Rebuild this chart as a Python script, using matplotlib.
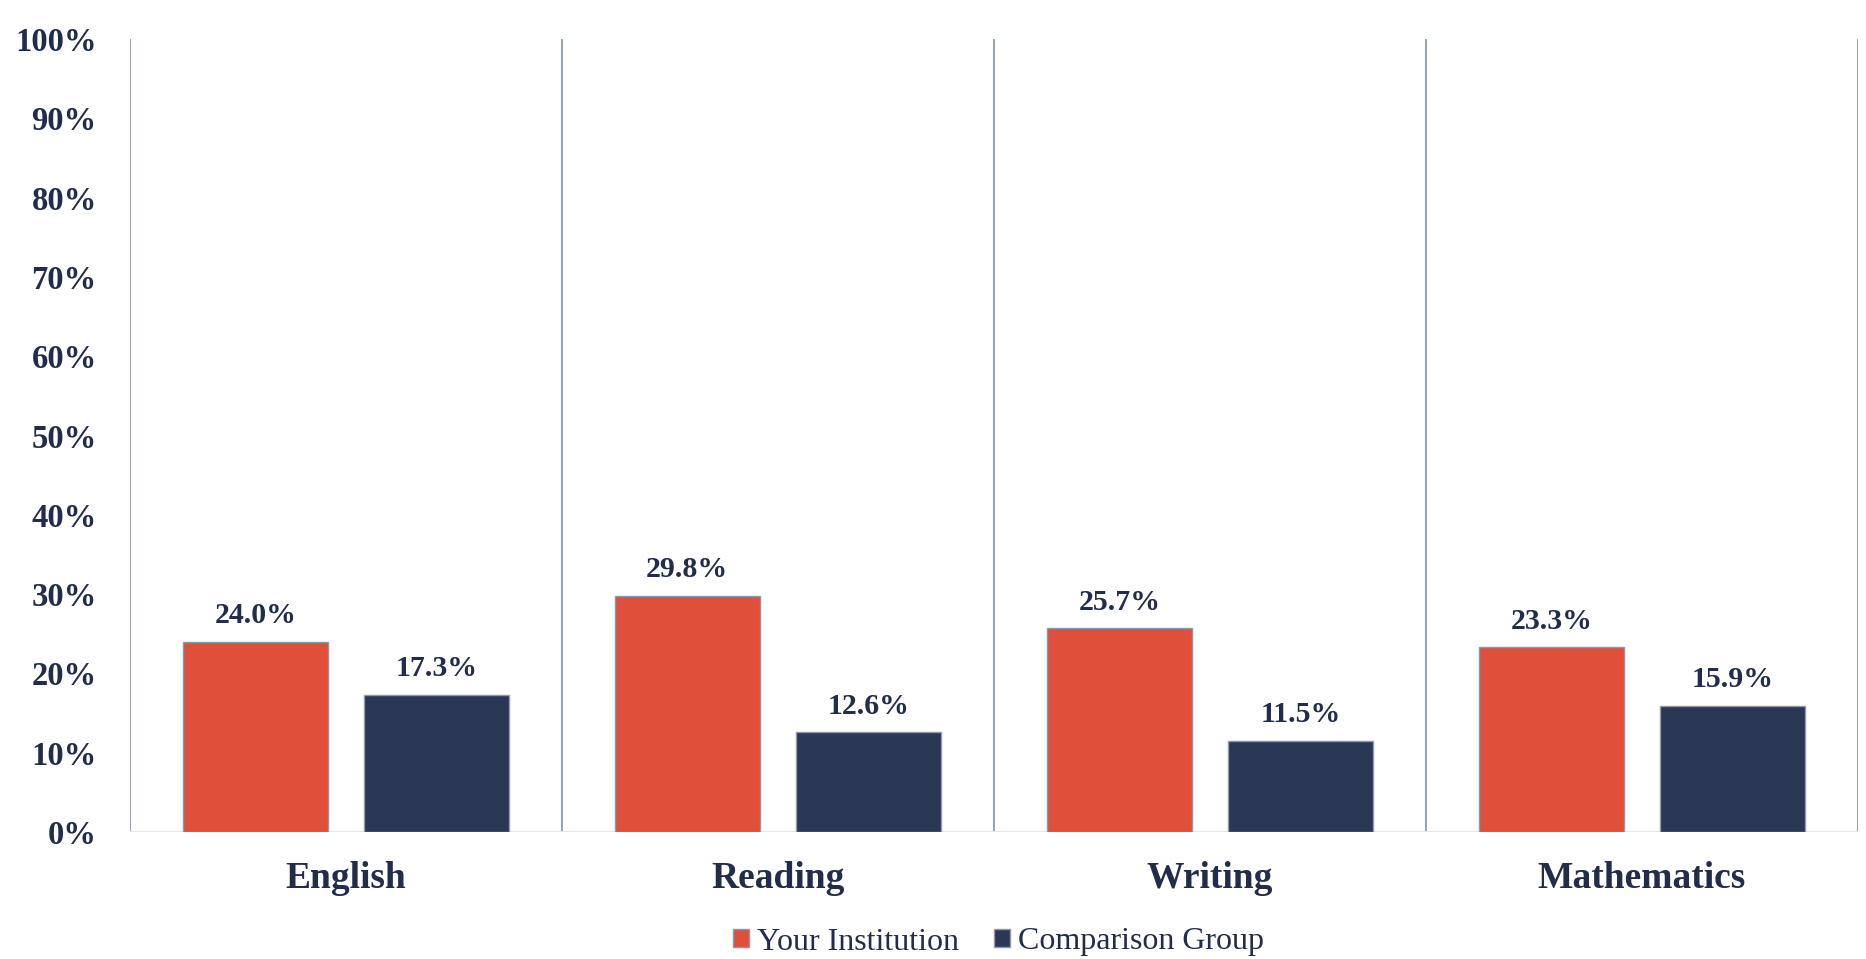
import matplotlib
matplotlib.use('Agg')
import matplotlib.pyplot as plt
import numpy as np

# данные
categories = ['English', 'Reading', 'Writing', 'Mathematics']
your_inst = [24.0, 29.8, 25.7, 23.3]
comparison = [17.3, 12.6, 11.5, 15.9]
series_names = ['Your Institution', 'Comparison Group']
y_ticks = list(range(0, 101, 10))

plt.rcParams['font.family'] = ['Liberation Serif', 'DejaVu Serif']
text_col = '#222D4C'
red = '#E04F39'
navy = '#2A3855'
sep_col = '#9AA5B4'

fig = plt.figure(figsize=(18.66, 9.59), dpi=100)
ax = fig.add_axes([130 / 1866, 1 - 832 / 959, (1858 - 130) / 1866, (832 - 39) / 959])

x = np.arange(len(categories))
w = 0.336
off = 0.21
b1 = ax.bar(x - off, your_inst, w, color=red, edgecolor='#8E97AC', linewidth=1, label=series_names[0], zorder=3)
b2 = ax.bar(x + off, comparison, w, color=navy, edgecolor='#8E97AC', linewidth=1, label=series_names[1], zorder=3)

for bars, vals in ((b1, your_inst), (b2, comparison)):
    for r, v in zip(bars, vals):
        ax.annotate(f'{v:.1f}%', (r.get_x() + r.get_width() / 2, v), xytext=(0, 9),
                    textcoords='offset points', ha='center', va='bottom',
                    fontsize=21.5, fontweight='bold', color=text_col)

# вертикальные разделители
for s in np.arange(-0.5, len(categories), 1.0):
    ax.axvline(s, color=sep_col, linewidth=1.5, zorder=1)
ax.axhline(0, color='#E6E6E6', linewidth=1.5, zorder=2)

ax.set_xlim(-0.5, len(categories) - 0.5)
ax.set_ylim(0, 100)
ax.set_yticks(y_ticks)
ax.set_yticklabels([f'{t}%' for t in y_ticks], fontsize=23.5, fontweight='bold', color=text_col)
ax.set_xticks(x)
ax.set_xticklabels(categories, fontsize=27, fontweight='bold', color=text_col)
ax.tick_params(axis='y', length=0, pad=24)
ax.tick_params(axis='x', length=0, pad=21)
for sp in ax.spines.values():
    sp.set_visible(False)

fig.legend(handles=[b1, b2], labels=series_names, loc='center', bbox_to_anchor=(0.535, 1 - 942 / 959),
           ncol=2, frameon=False, fontsize=23, handlelength=0.5, handleheight=0.5,
           handletextpad=0.25, columnspacing=1.1, labelcolor=text_col)

plt.savefig('out.png', dpi=100)
